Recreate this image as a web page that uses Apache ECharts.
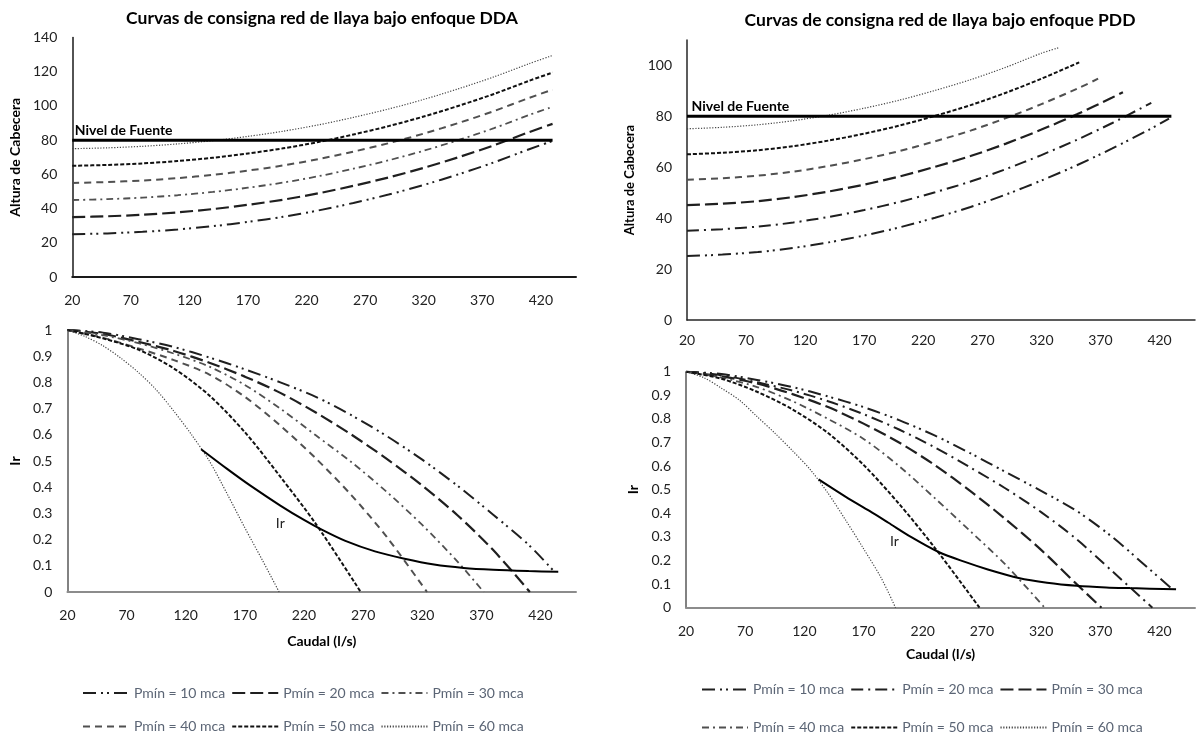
<!DOCTYPE html>
<html>
<head>
<meta charset="utf-8">
<script src="https://cdn.jsdelivr.net/npm/echarts@6/dist/echarts.min.js"></script>
<style>
  html, body { margin: 0; padding: 0; background: #ffffff; }
  #dda { position: absolute; left: 0; top: 0; width: 600px; height: 738px; }
  #pdd { position: absolute; left: 600px; top: 0; width: 598px; height: 738px; }
</style>
</head>
<body>
<div id="dda"></div>
<div id="pdd"></div>
<script>
// ---------------------------------------------------------------
// Datos: caudal (l/s), altura de cabecera (m) e índice de resiliencia
// ---------------------------------------------------------------
const nombres = ['Pmín = 10 mca', 'Pmín = 20 mca', 'Pmín = 30 mca',
                 'Pmín = 40 mca', 'Pmín = 50 mca', 'Pmín = 60 mca'];

// Nivel de la fuente (m)
const qFuente = [20, 430];
const hFuente = [80, 80];

// ----- Enfoque DDA: altura de cabecera -----
const qAlturaDDA = [20, 50, 80, 110, 140, 170, 200, 230, 260, 290, 320, 350, 380, 410, 430];
const hDDA10 = [25, 25.5, 26.4, 27.8, 29.7, 32.2, 35.2, 38.9, 43.3, 48.2, 53.8, 60.1, 67, 74.7, 79.5];
const hDDA20 = [35, 35.5, 36.4, 37.8, 39.7, 42.2, 45.2, 48.9, 53.3, 58.2, 63.8, 70.1, 77, 84.7, 89.5];
const hDDA30 = [45, 45.5, 46.4, 47.8, 49.7, 52.2, 55.2, 58.9, 63.3, 68.2, 73.8, 80.1, 87, 94.7, 99.5];
const hDDA40 = [55, 55.5, 56.4, 57.8, 59.7, 62.2, 65.2, 68.9, 73.3, 78.2, 83.8, 90.1, 97, 104.7, 109.5];
const hDDA50 = [65, 65.5, 66.4, 67.8, 69.7, 72.2, 75.2, 78.9, 83.3, 88.2, 93.8, 100.1, 107, 114.7, 119.5];
const hDDA60 = [75, 75.5, 76.4, 77.8, 79.7, 82.2, 85.2, 88.9, 93.3, 98.2, 103.8, 110.1, 117, 124.7, 129.5];

// ----- Enfoque DDA: índice de resiliencia por presión mínima -----
const qIrDDA10 = [20, 50, 80, 110, 140, 170, 200, 230, 260, 290, 320, 350, 380, 410, 432];
const irDDA10  = [1, 0.99, 0.965, 0.935, 0.895, 0.85, 0.8, 0.745, 0.675, 0.595, 0.505, 0.405, 0.295, 0.18, 0.076];
const qIrDDA20 = [20, 50, 80, 110, 140, 170, 200, 230, 260, 290, 320, 350, 380, 411];
const irDDA20  = [1, 0.985, 0.955, 0.92, 0.875, 0.822, 0.76, 0.685, 0.601, 0.508, 0.406, 0.292, 0.16, 0];
const qIrDDA30 = [20, 50, 80, 110, 140, 170, 200, 230, 260, 290, 320, 350, 372];
const irDDA30  = [1, 0.98, 0.95, 0.91, 0.86, 0.79, 0.7, 0.598, 0.496, 0.382, 0.256, 0.115, 0];
const qIrDDA40 = [20, 50, 80, 110, 140, 170, 200, 230, 260, 290, 324];
const irDDA40  = [1, 0.97, 0.93, 0.885, 0.83, 0.745, 0.635, 0.51, 0.37, 0.21, 0];
const qIrDDA50 = [20, 50, 80, 110, 140, 170, 200, 230, 268];
const irDDA50  = [1, 0.968, 0.925, 0.853, 0.75, 0.61, 0.44, 0.26, 0];
const qIrDDA60 = [20, 35, 50, 65, 80, 95, 110, 125, 140, 155, 170, 185, 199];
const irDDA60  = [1, 0.975, 0.94, 0.893, 0.838, 0.772, 0.69, 0.6, 0.5, 0.375, 0.245, 0.12, 0];
// curva Ir de la red (DDA)
const qIrRedDDA = [133, 155, 175, 200, 220, 235, 255, 280, 305, 330, 355, 380, 410, 435];
const irRedDDA  = [0.545, 0.47, 0.405, 0.33, 0.275, 0.238, 0.195, 0.155, 0.127, 0.105, 0.092, 0.085, 0.08, 0.077];

// ----- Enfoque PDD: altura de cabecera -----
const qAlturaPDD10 = [20, 50, 80, 110, 140, 170, 200, 230, 260, 290, 320, 350, 380, 410, 428];
const hPDD10 = [25.1, 25.7, 26.7, 28.3, 30.5, 33.2, 36.4, 40.2, 44.4, 49.3, 54.8, 60.8, 67.4, 74.5, 79.1];
const qAlturaPDD20 = [20, 50, 80, 110, 140, 170, 200, 230, 260, 290, 320, 350, 380, 413];
const hPDD20 = [35.1, 35.7, 36.7, 38.3, 40.5, 43.2, 46.4, 50.2, 54.4, 59.3, 64.8, 70.8, 77.4, 85.3];
const qAlturaPDD30 = [20, 50, 80, 110, 140, 170, 200, 230, 260, 290, 320, 350, 380, 389];
const hPDD30 = [45.1, 45.7, 46.7, 48.3, 50.5, 53.2, 56.4, 60.2, 64.4, 69.3, 74.8, 80.8, 87.4, 89.5];
const qAlturaPDD40 = [20, 50, 80, 110, 140, 170, 200, 230, 260, 290, 320, 350, 368];
const hPDD40 = [55.1, 55.7, 56.7, 58.3, 60.5, 63.2, 66.4, 70.2, 74.4, 79.3, 84.8, 90.8, 94.8];
const qAlturaPDD50 = [20, 50, 80, 110, 140, 170, 200, 230, 260, 290, 320, 352];
const hPDD50 = [65.1, 65.7, 66.7, 68.3, 70.5, 73.2, 76.4, 80.2, 84.4, 89.3, 94.8, 101.2];
const qAlturaPDD60 = [20, 50, 80, 110, 140, 170, 200, 230, 260, 290, 320, 335];
const hPDD60 = [75.1, 75.7, 76.7, 78.3, 80.5, 83.2, 86.4, 90.2, 94.4, 99.3, 104.8, 107];

// ----- Enfoque PDD: índice de resiliencia por presión mínima -----
const qIrPDD10 = [20, 50, 80, 110, 140, 170, 200, 230, 260, 290, 320, 350, 380, 410, 431];
const irPDD10  = [1, 0.99, 0.965, 0.935, 0.895, 0.85, 0.795, 0.73, 0.655, 0.575, 0.495, 0.41, 0.3, 0.17, 0.078];
const qIrPDD20 = [20, 50, 80, 110, 140, 170, 200, 230, 260, 290, 320, 350, 380, 414];
const irPDD20  = [1, 0.985, 0.955, 0.92, 0.875, 0.82, 0.755, 0.68, 0.595, 0.505, 0.405, 0.29, 0.155, 0];
const qIrPDD30 = [20, 50, 80, 110, 140, 170, 200, 230, 260, 290, 320, 350, 371];
const irPDD30  = [1, 0.98, 0.95, 0.905, 0.85, 0.78, 0.7, 0.605, 0.495, 0.375, 0.245, 0.1, 0];
const qIrPDD40 = [20, 50, 80, 110, 140, 170, 200, 230, 260, 290, 323];
const irPDD40  = [1, 0.975, 0.935, 0.875, 0.8, 0.715, 0.6, 0.465, 0.325, 0.182, 0];
const qIrPDD50 = [20, 50, 80, 110, 140, 170, 200, 230, 268];
const irPDD50  = [1, 0.97, 0.915, 0.84, 0.74, 0.605, 0.44, 0.255, 0];
const qIrPDD60 = [20, 35, 50, 65, 80, 95, 110, 125, 140, 155, 170, 185, 197];
const irPDD60  = [1, 0.975, 0.93, 0.88, 0.81, 0.74, 0.665, 0.585, 0.485, 0.37, 0.25, 0.125, 0];
// curva Ir de la red (PDD)
const qIrRedPDD = [132, 155, 175, 191, 210, 233, 255, 275, 301, 325, 350, 375, 395, 434];
const irRedPDD  = [0.544, 0.47, 0.41, 0.36, 0.3, 0.237, 0.195, 0.162, 0.126, 0.106, 0.093, 0.086, 0.083, 0.078];

// ---------------------------------------------------------------
// Estilos de línea
// ---------------------------------------------------------------
const FONT = 'Lato, "Open Sans", sans-serif';
const L = {
  dashDotDot:  { color: '#1f1f1f', width: 2,   type: [13, 5, 2, 4, 2, 5] },
  longDash:    { color: '#1f1f1f', width: 2.2, type: [13, 5] },
  dashDot:     { color: '#1f1f1f', width: 2,   type: [12, 5, 2, 5] },
  greyDashDot: { color: '#505050', width: 1.8, type: [7, 4, 2, 4] },
  greyDash:    { color: '#505050', width: 2,   type: [7, 5] },
  shortDash:   { color: '#111111', width: 2,   type: [4, 2] },
  dotted:      { color: '#444444', width: 1.2, type: [1.2, 1.6] },
  solid:       { color: '#000000', width: 2,   type: 'solid' },
  fuente:      { color: '#000000', width: 3,   type: 'solid' }
};

function pares(q, v) { return q.map((x, i) => [x, v[i]]); }

function curva(name, gi, q, v, ls) {
  return {
    type: 'line', name: name, xAxisIndex: gi, yAxisIndex: gi,
    data: pares(q, v), symbol: 'none', smooth: 0.3,
    lineStyle: ls, itemStyle: { color: ls.color }, silent: true, animation: false, z: 3
  };
}

function rotulo(text, coord, pos, offset, style) {
  return {
    symbol: 'circle', symbolSize: 1, itemStyle: { color: 'rgba(0,0,0,0)' },
    silent: true, animation: false,
    data: [{ coord: coord, value: text,
      label: Object.assign({ show: true, formatter: text, position: pos, offset: offset,
        fontFamily: FONT, color: '#000' }, style) }]
  };
}

function ejeX(gi, lineColor, lineWidth, margin, extra) {
  return Object.assign({
    type: 'value', gridIndex: gi, min: 20, max: 450, interval: 50,
    axisLine: { show: true, onZero: false, lineStyle: { color: lineColor, width: lineWidth } },
    axisTick: { show: false }, splitLine: { show: false },
    axisLabel: { margin: margin, fontSize: 14, fontFamily: FONT, color: '#222',
      formatter: v => ((v - 20) % 50 === 0 ? String(v) : '') }
  }, extra || {});
}

function ejeY(gi, min, max, interval, lineColor, lineWidth, name, nameGap, nameSize, extraLabel) {
  return {
    type: 'value', gridIndex: gi, min: min, max: max, interval: interval,
    axisLine: { show: true, lineStyle: { color: lineColor, width: lineWidth } },
    axisTick: { show: false }, splitLine: { show: false },
    axisLabel: Object.assign({ margin: 15, fontSize: 14, fontFamily: FONT, color: '#222' }, extraLabel || {}),
    name: name, nameLocation: 'middle', nameRotate: 90, nameGap: nameGap,
    nameTextStyle: { fontFamily: FONT, fontWeight: 'bold', fontSize: nameSize, color: '#000' }
  };
}

function leyenda(items, left, top) {
  return {
    data: items, left: left, top: top, orient: 'horizontal', padding: 0,
    itemWidth: 46, itemHeight: 14, itemGap: 6, selectedMode: false,
    itemStyle: { opacity: 0, borderWidth: 0 },
    textStyle: { fontFamily: FONT, fontSize: 14, color: '#5b6575' }
  };
}

function titulo(text, x, y) {
  return { type: 'text', x: x, y: y, silent: true,
    style: { text: text, fontFamily: FONT, fontWeight: 'bold', fontSize: 17.5,
      fill: '#000', align: 'center', verticalAlign: 'middle' } };
}

// ---------------------------------------------------------------
// Curvas bajo enfoque DDA
// ---------------------------------------------------------------
const chartDDA = echarts.init(document.getElementById('dda'), null, { renderer: 'canvas' });
const fuenteDDA = curva('Nivel de Fuente', 0, qFuente, hFuente, L.fuente);
fuenteDDA.z = 5;
fuenteDDA.markPoint = rotulo('Nivel de Fuente', [20, 80], 'right', [-3, -10], { fontWeight: 'bold', fontSize: 14 });
const redDDA = curva('Ir', 1, qIrRedDDA, irRedDDA, L.solid);
redDDA.markPoint = rotulo('Ir', [200, 0.262], 'inside', [0, 0], { fontSize: 14, color: '#222' });

chartDDA.setOption({
  animation: false,
  graphic: [titulo('Curvas de consigna red de Ilaya bajo enfoque DDA', 322, 18)],
  grid: [
    { left: 67, top: 37.5, width: 509, height: 239.5 },
    { left: 67, top: 330, width: 509, height: 262 }
  ],
  xAxis: [
    ejeX(0, '#1a1a1a', 2, 16),
    ejeX(1, '#8c8c8c', 2, 16, { name: 'Caudal (l/s)', nameLocation: 'middle', nameGap: 42,
      nameTextStyle: { fontFamily: FONT, fontWeight: 'bold', fontSize: 14, color: '#000' } })
  ],
  yAxis: [
    ejeY(0, 0, 140, 20, '#1a1a1a', 1.5, 'Altura de Cabecera', 43, 14),
    ejeY(1, 0, 1, 0.1, '#595959', 1.5, 'Ir', 44, 14)
  ],
  legend: [
    leyenda(nombres.slice(0, 3), 82, 686),
    leyenda(nombres.slice(3, 6), 82, 719.5)
  ],
  series: [
    curva(nombres[0], 0, qAlturaDDA, hDDA10, L.dashDotDot),
    curva(nombres[1], 0, qAlturaDDA, hDDA20, L.longDash),
    curva(nombres[2], 0, qAlturaDDA, hDDA30, L.greyDashDot),
    curva(nombres[3], 0, qAlturaDDA, hDDA40, L.greyDash),
    curva(nombres[4], 0, qAlturaDDA, hDDA50, L.shortDash),
    curva(nombres[5], 0, qAlturaDDA, hDDA60, L.dotted),
    fuenteDDA,
    curva(nombres[0], 1, qIrDDA10, irDDA10, L.dashDotDot),
    curva(nombres[1], 1, qIrDDA20, irDDA20, L.longDash),
    curva(nombres[2], 1, qIrDDA30, irDDA30, L.greyDashDot),
    curva(nombres[3], 1, qIrDDA40, irDDA40, L.greyDash),
    curva(nombres[4], 1, qIrDDA50, irDDA50, L.shortDash),
    curva(nombres[5], 1, qIrDDA60, irDDA60, L.dotted),
    redDDA
  ]
});

// ---------------------------------------------------------------
// Curvas bajo enfoque PDD
// ---------------------------------------------------------------
const chartPDD = echarts.init(document.getElementById('pdd'), null, { renderer: 'canvas' });
const fuentePDD = curva('Nivel de Fuente', 0, qFuente, hFuente, L.fuente);
fuentePDD.z = 5;
fuentePDD.markPoint = rotulo('Nivel de Fuente', [20, 80], 'right', [-1, -10], { fontWeight: 'bold', fontSize: 14 });
const redPDD = curva('Ir', 1, qIrRedPDD, irRedPDD, L.solid);
redPDD.markPoint = rotulo('Ir', [196, 0.28], 'inside', [0, 0], { fontSize: 14, color: '#222' });

chartPDD.setOption({
  animation: false,
  graphic: [titulo('Curvas de consigna red de Ilaya bajo enfoque PDD', 340, 20)],
  grid: [
    { left: 87, top: 40, width: 511, height: 280 },
    { left: 86, top: 371.7, width: 512, height: 236 }
  ],
  xAxis: [
    ejeX(0, '#262626', 1.5, 13),
    ejeX(1, '#8c8c8c', 2, 17, { name: 'Caudal (l/s)', nameLocation: 'middle', nameGap: 40,
      nameTextStyle: { fontFamily: FONT, fontWeight: 'bold', fontSize: 14, color: '#000' } })
  ],
  yAxis: [
    ejeY(0, 0, 110, 20, '#262626', 1.5, 'Altura de Cabecera', 43, 13,
      { formatter: v => (v % 20 === 0 ? String(v) : '') }),
    ejeY(1, 0, 1, 0.1, '#595959', 1.5, 'Ir', 40, 14)
  ],
  legend: [
    leyenda(nombres.slice(0, 3), 101, 682.5),
    leyenda(nombres.slice(3, 6), 101, 720.5)
  ],
  series: [
    curva(nombres[0], 1, qIrPDD10, irPDD10, L.dashDotDot),
    curva(nombres[1], 1, qIrPDD20, irPDD20, L.dashDot),
    curva(nombres[2], 1, qIrPDD30, irPDD30, L.longDash),
    curva(nombres[3], 1, qIrPDD40, irPDD40, L.greyDashDot),
    curva(nombres[4], 1, qIrPDD50, irPDD50, L.shortDash),
    curva(nombres[5], 1, qIrPDD60, irPDD60, L.dotted),
    redPDD,
    curva(nombres[0], 0, qAlturaPDD10, hPDD10, L.dashDotDot),
    curva(nombres[1], 0, qAlturaPDD20, hPDD20, L.dashDot),
    curva(nombres[2], 0, qAlturaPDD30, hPDD30, L.longDash),
    curva(nombres[3], 0, qAlturaPDD40, hPDD40, L.greyDash),
    curva(nombres[4], 0, qAlturaPDD50, hPDD50, L.shortDash),
    curva(nombres[5], 0, qAlturaPDD60, hPDD60, L.dotted),
    fuentePDD
  ]
});
</script>
</body>
</html>
